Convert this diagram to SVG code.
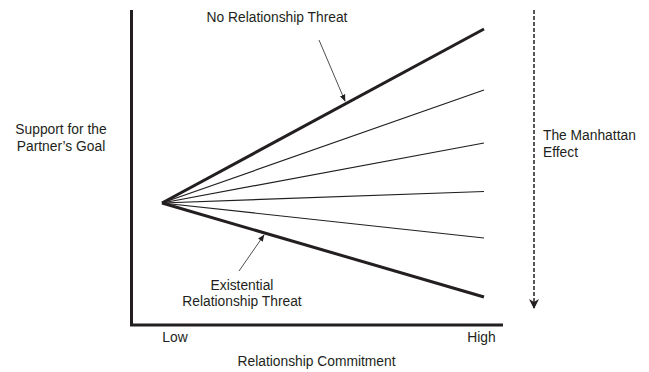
<svg xmlns="http://www.w3.org/2000/svg" width="649" height="372" viewBox="0 0 649 372">
<style>
text{font-family:"Liberation Sans",Arial,sans-serif;font-size:13.8px;fill:#231f20}
.ax{stroke:#231f20;stroke-width:3;fill:none}
.thick{stroke:#231f20;stroke-width:3;fill:none}
.thin{stroke:#231f20;stroke-width:1.2;fill:none}
.ptr{stroke:#231f20;stroke-width:0.8;fill:none}
</style>
<defs>
<marker id="ah" viewBox="0 0 10 10" refX="9" refY="5" markerWidth="7" markerHeight="7" markerUnits="userSpaceOnUse" orient="auto"><path d="M0,1 L10,5 L0,9 z" fill="#231f20"/></marker>
<marker id="ad" viewBox="0 0 10 10" refX="9" refY="5" markerWidth="10" markerHeight="10" markerUnits="userSpaceOnUse" orient="auto"><path d="M0,0 L10,5 L0,10 L3,5 z" fill="#231f20"/></marker>
</defs>
<g id="axes">
<polyline class="ax" points="131.5,10 131.5,325 503,325"/>
</g>
<g id="connectors">
<line class="thick" x1="162" y1="203" x2="484" y2="29"/>
<line class="thin" x1="162" y1="203" x2="484" y2="90"/>
<line class="thin" x1="162" y1="203" x2="484" y2="143"/>
<line class="thin" x1="162" y1="203" x2="484" y2="191.5"/>
<line class="thin" x1="162" y1="203" x2="484" y2="238"/>
<line class="thick" x1="162" y1="203" x2="484" y2="297"/>
<line class="ptr" x1="319" y1="40" x2="345" y2="101" marker-end="url(#ah)"/>
<line class="ptr" x1="239" y1="271" x2="264" y2="235" marker-end="url(#ah)"/>
<line x1="534" y1="10" x2="534" y2="308" stroke="#231f20" stroke-width="1.5" stroke-dasharray="4,2" marker-end="url(#ad)"/>
</g>
<g id="label-no-threat"><text x="277" y="22" text-anchor="middle">No Relationship Threat</text></g>
<g id="label-existential"><text x="242" y="290" text-anchor="middle">Existential</text><text x="242" y="306" text-anchor="middle">Relationship Threat</text></g>
<g id="label-y"><text x="61" y="134" text-anchor="middle">Support for the</text><text x="61" y="151" text-anchor="middle">Partner’s Goal</text></g>
<g id="label-manhattan"><text x="543" y="140">The Manhattan</text><text x="543" y="157">Effect</text></g>
<g id="label-low"><text x="175" y="342" text-anchor="middle">Low</text></g>
<g id="label-high"><text x="481.5" y="342" text-anchor="middle">High</text></g>
<g id="label-x"><text x="316.5" y="366" text-anchor="middle">Relationship Commitment</text></g>
</svg>
